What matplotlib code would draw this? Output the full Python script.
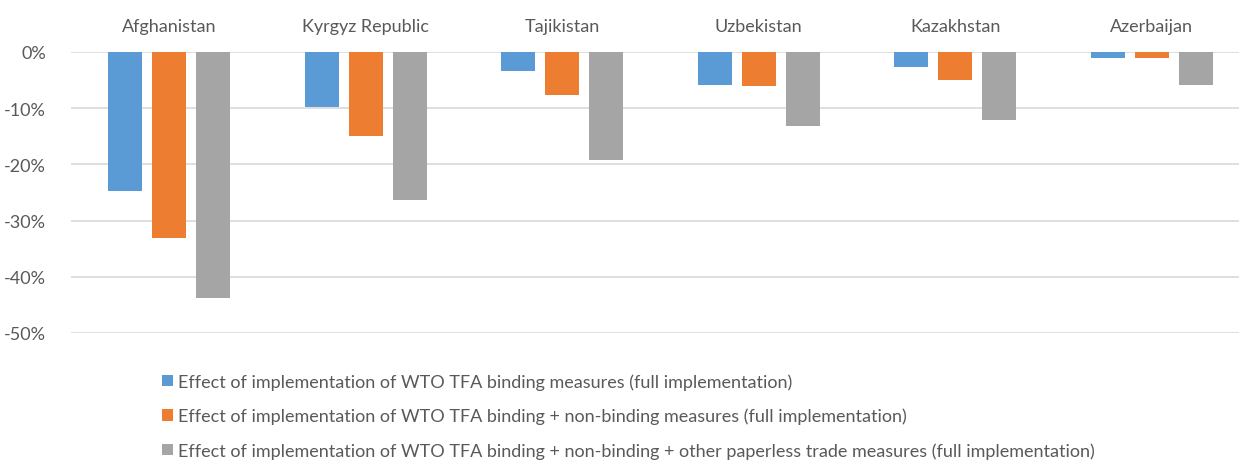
import numpy as np
import matplotlib.pyplot as plt
from matplotlib.ticker import FuncFormatter

# データ
countries = ['Afghanistan', 'Kyrgyz Republic', 'Tajikistan', 'Uzbekistan', 'Kazakhstan', 'Azerbaijan']
binding = [-24.8, -9.8, -3.4, -5.8, -2.6, -1.0]
nonbinding = [-33.1, -14.9, -7.7, -6.1, -5.0, -1.0]
paperless = [-43.8, -26.3, -19.2, -13.2, -12.1, -5.8]

labels = [
    'Effect of implementation of WTO TFA binding measures (full implementation)',
    'Effect of implementation of WTO TFA binding + non-binding measures (full implementation)',
    'Effect of implementation of WTO TFA binding + non-binding + other paperless trade measures (full implementation)',
]
colors = ['#5b9bd5', '#ed7d31', '#a5a5a5']

plt.rcParams['font.family'] = ['Lato', 'DejaVu Sans']
text_color = '#595959'

fig = plt.figure(figsize=(12.39, 4.64), dpi=100)
ax = fig.add_axes([71 / 1239, 1 - 334 / 464, 1179 / 1239, (334 - 53) / 464])

x = np.arange(len(countries))
w = 0.175
off = 0.224
for i, (vals, c, lab) in enumerate(zip([binding, nonbinding, paperless], colors, labels)):
    ax.bar(x + (i - 1) * off, vals, width=w, color=c, label=lab, zorder=3)

ax.set_xlim(-0.5, len(countries) - 0.5)
ax.set_ylim(-50, 0)
ax.set_yticks(np.arange(-50, 1, 10))
ax.yaxis.set_major_formatter(FuncFormatter(lambda v, p: f'{v:.0f}%'))
ax.grid(axis='y', color='#d9d9d9', lw=1.2, zorder=0)
ax.set_axisbelow(True)

ax.xaxis.tick_top()
ax.set_xticks(x)
ax.set_xticklabels(countries)
ax.tick_params(axis='both', length=0, colors=text_color, labelsize=13)
ax.tick_params(axis='x', pad=13)
ax.tick_params(axis='y', pad=18)
for s in ax.spines.values():
    s.set_visible(False)

fig.legend(loc='upper left', bbox_to_anchor=(146 / 1239, 1 - 358 / 464), frameon=False,
           fontsize=13, labelcolor=text_color, handlelength=0.6, handleheight=0.6,
           handletextpad=0.3, labelspacing=1.0)

fig.savefig('out.png')
